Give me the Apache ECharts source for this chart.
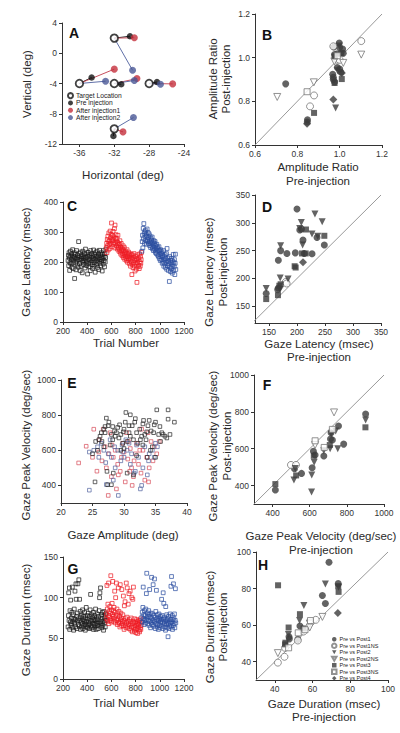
<!DOCTYPE html>
<html><head><meta charset="utf-8">
<script src="https://cdn.jsdelivr.net/npm/echarts@6/dist/echarts.min.js"></script>
<style>html,body{margin:0;padding:0;background:#fff}#c{width:400px;height:733px}</style>
</head><body><div id="c"></div>
<script>
// ---------- Panel A ----------
const tgtX=[-36,-32,-32,-28,-32], tgtY=[-4,2,-4,-4,-10];
const preX=[-34.6,-30.2,-31.2,-27.1,-32.1], preY=[-3.2,2.25,-4.1,-3.8,-10.95];
const inj1X=[-32,-29.7,-29.4,-25.3,-31], inj1Y=[-2.1,2.05,-3.35,-4.05,-10.4];
const inj2X=[-33,-29.9,-29.7,-26.7,-29.8], inj2Y=[-3.7,-2.25,-3.6,-4.1,-8.5];
const aXTicks=[-36,-32,-28,-24];

// ---------- Panels C & G (trial-by-trial) ----------
const blackTrials=[242,245,247,250,253,255,258,261,263,266,269,271,274,277,280,282,285,288,290,293,296,299,301,304,307,309,312,315,318,320,323,326,329,331,334,337,340,342,345,348,351,353,356,359,362,364,367,370,373,375,378,381,384,386,389,392,395,397,400,403,406,408,411,414,417,419,422,425,428,430,433,436,439,441,444,447,450,452,455,458,461,463,466,469,472,474,477,480,483,485,488,491,494,496,499,502,505,507,510,513,516,518,521,524,527,529,532,535,538,540,543,546,549,552,555];
const blackLat=[205,222,188,231,214,172,198,236,219,193,208,227,182,214,241,199,178,220,206,231,145,215,226,197,174,212,238,203,190,221,209,183,268,216,229,195,207,171,233,218,186,211,224,164,201,236,213,192,219,205,228,180,210,243,197,215,188,226,203,160,219,232,194,210,184,223,207,171,238,199,216,228,191,205,179,221,213,240,198,186,225,209,166,231,203,217,192,236,210,182,219,200,227,175,214,239,196,208,223,187,231,203,215,170,226,211,193,238,205,219,184,228,200,215,243];
const blackDur=[64,78,106,72,112,61,84,70,97,66,75,68,82,113,63,71,79,60,74,86,69,108,73,64,117,98,77,62,71,81,117,67,74,122,65,98,72,83,61,76,70,64,79,68,85,62,73,77,66,71,82,69,60,75,67,88,71,64,78,63,74,81,66,70,62,77,68,85,104,72,65,79,71,63,76,69,82,61,73,67,78,64,72,86,68,61,75,70,80,66,73,62,77,69,84,100,106,65,112,71,68,79,63,74,82,66,71,60,77,83,69,75,64,80,72];

const redTrials=[558,561,563,566,569,571,574,577,579,582,585,587,590,593,595,598,601,603,606,609,611,614,617,619,622,625,627,630,633,635,638,641,643,646,649,651,654,657,659,662,665,667,670,673,675,678,681,683,686,689,691,694,697,699,702,705,707,710,713,715,718,721,723,726,729,731,734,737,739,742,745,747,750,753,755,758,761,763,766,769,771,774,777,779,782,785,787,790,793,795,798,801,803,806,809,811,814,817,819,822,825,827,830,833,835,838,841,843,846,849];
const redLat=[248,262,231,275,254,286,240,268,297,259,272,245,303,281,262,292,330,270,251,288,276,302,259,284,265,311,247,323,280,262,291,270,254,278,243,266,289,249,261,236,258,242,271,233,250,226,262,238,247,221,243,229,254,215,238,224,248,209,232,219,236,212,228,204,241,218,199,226,210,233,206,221,194,228,212,186,217,201,225,158,209,192,223,181,214,198,228,187,205,170,219,193,208,176,211,132,198,224,184,207,190,214,178,227,201,186,219,196,208,232];
const redDur=[80,74,115,86,71,92,78,118,68,83,76,89,72,81,127,70,85,74,93,79,120,77,84,71,88,75,108,82,69,100,78,118,72,86,67,80,74,112,70,83,69,77,64,116,73,81,66,75,110,71,68,79,65,102,72,61,90,70,95,66,74,63,118,69,76,112,64,71,92,67,105,62,73,66,108,70,60,75,64,100,68,58,98,71,113,63,69,59,74,65,61,70,57,66,73,62,68,56,71,64,67,60,72,58,69,63,74,61,66,70];

const blueTrials=[852,855,857,860,863,865,868,871,873,876,879,881,884,887,889,892,895,897,900,903,905,908,911,913,916,919,921,924,927,929,932,935,937,940,943,945,948,951,953,956,959,961,964,967,969,972,975,977,980,983,985,988,991,993,996,999,1001,1004,1007,1009,1012,1015,1017,1020,1023,1025,1028,1031,1033,1036,1039,1041,1044,1047,1049,1052,1055,1057,1060,1063,1065,1068,1071,1073,1076,1079,1081,1084,1087,1089,1092,1095,1097,1100,1103,1105,1108,1111,1113,1116,1119,1121,1124,1127,1129,1132];
const blueLat=[236,268,289,247,312,278,328,295,262,301,284,306,271,293,259,287,310,276,268,298,281,262,294,271,255,287,266,248,279,261,273,252,283,244,266,257,238,271,249,262,241,268,232,254,246,228,259,237,250,223,244,219,236,251,212,238,226,205,241,218,229,208,234,196,222,215,200,238,186,219,207,193,224,182,211,199,228,176,245,204,188,213,172,201,194,135,218,183,206,168,197,178,212,186,163,204,190,225,171,199,184,208,158,196,226,175];
const blueDur=[76,82,70,88,113,74,79,67,84,72,78,69,86,73,105,130,75,81,68,77,72,84,66,79,110,71,76,63,81,69,125,74,67,80,72,116,65,78,71,123,70,76,62,83,68,109,73,64,79,67,75,61,72,80,66,74,63,77,69,71,73,98,65,78,70,62,106,74,93,68,76,64,71,60,89,73,67,79,63,70,74,52,68,77,62,71,65,80,69,73,114,64,126,70,78,61,73,66,117,75,68,80,63,72,111,69];

// ---------- Panel E (amplitude, peak velocity) ----------
const eBlack=[[26.5,650],[27,700],[26.8,720],[27.5,740],[28,690],[28.5,710],[26.2,680],[27.2,783],[29,730],[29.5,690],[30,720],[30.3,815],[30.8,700],[31,802],[31.3,740],[31.7,760],[32,700],[32.5,720],[33,750],[33.3,690],[33.8,740],[34,770],[34.3,710],[34.7,700],[35,760],[35.2,830],[35.5,690],[36,700],[36.5,680],[37,830],[37,777],[37.3,690],[38,760],[36.8,670],[35.8,650],[34.5,620],[33.5,660],[32.8,680],[31.5,660],[30.5,650],[29.8,640],[29.2,670],[28.2,660],[27.8,630],[26.8,620],[25.8,600],[25,580],[25.5,650],[26,660],[27.3,480],[25.4,420],[27.4,404],[28,404],[28.3,470],[30.5,470],[31.5,460],[33.7,560],[32,570],[35,560],[34.2,600],[33,630],[30,610],[29.5,600],[28.8,700],[31.8,780],[32.2,640],[31,680],[29.3,745],[28.2,735],[27.6,760],[30.2,760],[33.6,705],[34.8,745],[35.7,735],[36.2,690],[33.1,770],[32.6,660],[30.8,740],[29.9,705],[28.6,680],[26.4,700],[27,735]];
const eRed=[[22.8,528],[24,623],[25,560],[25.7,481],[26,590],[26.5,540],[27,620],[27.5,343],[27.2,500],[28,450],[28.3,560],[28.6,600],[29,520],[29.4,480],[29.8,640],[30,590],[30.2,420],[30.6,550],[31,610],[31.2,500],[31.5,450],[31.8,580],[32,640],[32.3,520],[32.7,470],[33,600],[33.3,430],[33.6,560],[34,500],[34.3,650],[34.8,620],[35.2,580],[26.7,720],[27.8,700],[30.7,650],[32.8,720],[33.8,700],[35.6,650],[28.8,380],[31.3,400],[33.9,420],[29.6,560],[30.9,480],[27.6,580],[26.1,660],[25.2,720],[28.1,630],[32.5,600],[31.6,540],[29.1,460],[34.6,540],[30.4,700]];
const eBlue=[[24.5,373],[24.5,590],[25.2,600],[26,560],[26.8,600],[27.5,580],[27.2,405],[28,560],[28.5,620],[29,600],[29.1,343],[29.5,540],[29.7,630],[30,560],[30.5,600],[31,520],[31.2,580],[31.6,470],[32,630],[32.3,560],[32.8,400],[33,500],[33.3,620],[33.7,460],[34,580],[34.5,600],[35,640],[35.3,620],[26.4,640],[27.8,660],[28.6,500],[30.8,640],[32.6,380],[31.8,480],[29.8,590],[28.3,430],[33.9,540],[30.3,660],[27.1,530],[25.8,620],[34.8,560]];

// ---------- Comparison panels B, D, F, H: [Post1, Post1NS, Post2, Post2NS, Post3, Post3NS, Post4] ----------
const bPost1=[[0.745,0.88],[0.848,0.716],[0.847,0.705],[0.967,0.924],[0.97,0.91],[0.97,0.9],[0.976,0.889],[0.989,0.955],[1.0,0.948],[1.006,0.933],[0.973,1.049],[0.998,1.067],[1.0,1.047],[1.014,1.04],[1.017,1.02],[0.989,1.018],[0.976,1.014]];
const bPost1NS=[[0.879,0.827],[0.86,0.777],[0.989,0.99],[1.0,0.99],[0.97,1.052],[1.102,1.076]];
const bPost2=[[0.981,0.77],[0.998,1.054],[0.99,0.94]];
const bPost2NS=[[0.705,0.82],[0.878,0.887],[1.017,0.976],[0.975,0.983],[1.102,1.014]];
const bPost3=[[0.879,0.747],[0.976,0.884],[1.01,0.902],[0.976,1.006],[1.008,1.02]];
const bPost3NS=[[0.846,0.844],[0.989,1.009]];
const bPost4=[[0.846,0.697],[0.97,0.808],[1.01,0.93]];

const dPost1=[[200,325],[235.7,273.7],[205,287],[208,289],[210.7,269],[248.8,260],[170.8,250],[182,245],[197,246],[213,245],[226.8,244.3],[166.7,232.9],[166.7,183],[165.5,180],[145,173]];
const dPost1NS=[[180,193.8],[181.5,191]];
const dPost2=[[232,316],[245,302],[207.7,300.7],[204.8,290],[226.8,280],[237,276],[210,260],[170.8,258.7],[170,201],[184,199],[145,182],[169.6,180]];
const dPost2NS=[];
const dPost3=[[216,288],[248.8,276.7],[209,245],[215.5,245],[195.8,222],[197.6,219.7],[170.8,189.6],[168.5,187],[145,163],[166,170]];
const dPost3NS=[];
const dPost4=[[210.7,229.3]];

const fPost1=[[901,788],[755,723],[715,687],[712,653],[722,647],[783,625],[676,560],[620,586],[629,566],[613,497],[556,466],[518,491],[415,376]];
const fPost1NS=[[499,512],[526,512]];
const fPost2=[[901,756],[740,696],[716,680],[710,600],[751,600],[676,589],[624,526],[611,457],[610,365],[522,493],[515,430]];
const fPost2NS=[[731,797],[629,620]];
const fPost3=[[900,716],[708,620],[622,562],[527,455],[415,408]];
const fPost3NS=[[722,705],[678,607],[629,643]];
const fPost4=[];

const hPost1=[[68.7,94.4],[73.6,82.7],[65.2,76.2],[66.8,71.8],[53.3,59.5],[47.5,53.6],[47.7,52.5],[52.2,52.2]];
const hPost1NS=[[61.7,62.9],[55.2,56.5],[52.2,51.6],[45.4,47.6],[45.1,42.7],[41.6,39.5]];
const hPost2=[[66.8,82.5],[73.8,80.7],[55.4,70.7],[53.1,62.5],[47.2,54.9]];
const hPost2NS=[[65.2,64.5],[58.5,60.9],[58.5,58.7],[41.6,44.7]];
const hPost3=[[41.7,81.8],[73.6,81.3],[73.8,78.2],[53.3,66],[55.2,58.2],[47.3,58.7],[45.6,50.4],[45.4,49.5]];
const hPost3NS=[[58.9,62.5],[52.4,55.8],[47.3,47.6],[56,57.5]];
const hPost4=[[73.4,66.7]];

const groupNames=['Pre vs Post1','Pre vs Post1NS','Pre vs Post2','Pre vs Post2NS','Pre vs Post3','Pre vs Post3NS','Pre vs Post4'];
const legendA=['Target Location','Pre injection','After injection1','After injection2'];

// ---------- build ----------
const FONT='"Liberation Sans", Arial, Helvetica, sans-serif';
const grids=[
 {left:62,top:23,width:122,height:121},
 {left:255,top:14,width:127,height:131},
 {left:63,top:202,width:121,height:120},
 {left:255,top:195,width:126,height:128},
 {left:61,top:380,width:126,height:123},
 {left:254,top:375,width:130,height:129},
 {left:63,top:557,width:121,height:122},
 {left:256,top:552,width:132,height:128}
];
function axis(gi,min,max,o){
  o=o||{};
  const a={type:'value',gridIndex:gi,min:min,max:max,
    axisLine:{show:true,onZero:false,lineStyle:{color:'#333',width:1}},
    axisTick:{show:true,length:3,lineStyle:{color:'#333'}},
    axisLabel:{fontSize:8.5,color:'#333',margin:4,fontFamily:FONT,fontWeight:'normal',formatter:o.fmt||(v=>String(v))},
    splitLine:{show:false}};
  if(o.interval!=null) a.interval=o.interval;
  if(o.ticks){a.axisLabel.customValues=o.ticks;a.axisTick.customValues=o.ticks;}
  return a;
}
const xAxis=[
  axis(0,-38,-24,{ticks:aXTicks}),
  axis(1,0.6,1.2,{interval:0.2,fmt:v=>v.toFixed(1)}),
  axis(2,200,1200,{interval:200}),
  axis(3,125,350,{ticks:[150,200,250,300,350]}),
  axis(4,20,40,{interval:5}),
  axis(5,300,1000,{ticks:[400,600,800,1000]}),
  axis(6,200,1200,{interval:200}),
  axis(7,30,100,{ticks:[40,60,80,100]})
];
const yAxis=[
  axis(0,-12,4,{interval:4}),
  axis(1,0.6,1.2,{interval:0.2,fmt:v=>v.toFixed(1)}),
  axis(2,0,400,{interval:100}),
  axis(3,120,350,{ticks:[150,200,250,300,350]}),
  axis(4,300,1000,{ticks:[400,600,800,1000]}),
  axis(5,300,1000,{ticks:[400,600,800,1000]}),
  axis(6,0,150,{interval:50}),
  axis(7,30,100,{ticks:[40,60,80,100]})
];
yAxis.forEach(a=>{a.axisLabel.margin=5;});

const series=[];
// Panel A lines
const segCols=['#222','#c8505e','#6070a8'];
[[preX,preY],[inj1X,inj1Y],[inj2X,inj2Y]].forEach((p,k)=>{
  for(let i=0;i<tgtX.length;i++){
    series.push({type:'line',xAxisIndex:0,yAxisIndex:0,data:[[tgtX[i],tgtY[i]],[p[0][i],p[1][i]]],
      symbol:'none',silent:true,lineStyle:{color:segCols[k],width:1},z:1});
  }
});
const zip=(xs,ys)=>xs.map((x,i)=>[x,ys[i]]);
series.push({type:'scatter',name:legendA[1],xAxisIndex:0,yAxisIndex:0,data:zip(preX,preY),symbolSize:6.5,itemStyle:{color:'#111'},z:3});
series.push({type:'scatter',name:legendA[2],xAxisIndex:0,yAxisIndex:0,data:zip(inj1X,inj1Y),symbolSize:7,itemStyle:{color:'#c4303c'},z:3});
series.push({type:'scatter',name:legendA[3],xAxisIndex:0,yAxisIndex:0,data:zip(inj2X,inj2Y),symbolSize:7,itemStyle:{color:'#4a5896'},z:3});
series.push({type:'scatter',name:legendA[0],xAxisIndex:0,yAxisIndex:0,data:zip(tgtX,tgtY),symbolSize:7.5,itemStyle:{color:'#fff',borderColor:'#111',borderWidth:1.8},z:4});

// Panels C & G
const tColors=['#1a1a1a','#ee1c24','#2b4ea0'];
const tSets=[[blackTrials,blackLat,blackDur],[redTrials,redLat,redDur],[blueTrials,blueLat,blueDur]];
tSets.forEach((s,k)=>{
  const n=Math.min(s[0].length,s[1].length,s[2].length);
  const lat=[],dur=[];
  for(let i=0;i<n;i++){lat.push([s[0][i],s[1][i]]);dur.push([s[0][i],s[2][i]]);}
  const st={color:'rgba(0,0,0,0)',borderColor:tColors[k],borderWidth:0.9};
  series.push({type:'scatter',xAxisIndex:2,yAxisIndex:2,data:lat,symbol:'rect',symbolSize:3.8,itemStyle:st,silent:true});
  series.push({type:'scatter',xAxisIndex:6,yAxisIndex:6,data:dur,symbol:'rect',symbolSize:3.8,itemStyle:st,silent:true});
});
// Panel E
[[eRed,'#d8505c'],[eBlue,'#5566a0'],[eBlack,'#2a2a2a']].forEach(p=>{
  series.push({type:'scatter',xAxisIndex:4,yAxisIndex:4,data:p[0],symbol:'rect',symbolSize:3.6,
    itemStyle:{color:'rgba(0,0,0,0)',borderColor:p[1],borderWidth:0.9},silent:true});
});

// Comparison panels
const TRI='path://M0,0L10,0L5,9Z';
const shapes=[['circle',false,7],['circle',true,7],[TRI,false,7],[TRI,true,7],['rect',false,6],['rect',true,6],['diamond',false,8]];
const comp=[
  [1,[bPost1,bPost1NS,bPost2,bPost2NS,bPost3,bPost3NS,bPost4],[0.6,1.2]],
  [3,[dPost1,dPost1NS,dPost2,dPost2NS,dPost3,dPost3NS,dPost4],[120,350]],
  [5,[fPost1,fPost1NS,fPost2,fPost2NS,fPost3,fPost3NS,fPost4],[300,1000]],
  [7,[hPost1,hPost1NS,hPost2,hPost2NS,hPost3,hPost3NS,hPost4],[30,100]]
];
comp.forEach(c=>{
  const gi=c[0];
  series.push({type:'line',xAxisIndex:gi,yAxisIndex:gi,data:[[c[2][0],c[2][0]],[c[2][1],c[2][1]]],symbol:'none',silent:true,
    lineStyle:{color:'#999',width:1},z:1,clip:true});
  c[1].forEach((d,k)=>{
    const sh=shapes[k];
    series.push({type:'scatter',name:groupNames[k],xAxisIndex:gi,yAxisIndex:gi,data:d,symbol:sh[0],symbolSize:sh[2],
      itemStyle:sh[1]?{color:'#fff',borderColor:'#777',borderWidth:1}:{color:'#3c3c3c'},z:3});
  });
});

// Text
function T(text,x,y,o){
  o=o||{};
  return {type:'text',x:x,y:y,rotation:o.rot?Math.PI/2:0,z:10,silent:true,
    style:{text:text,x:0,y:0,fill:o.fill||'#2a2a2a',stroke:'none',lineWidth:0,
      fontSize:o.size||11.5,fontFamily:FONT,fontWeight:o.bold?'bold':'normal',
      align:'center',verticalAlign:'middle',lineHeight:o.lh||13.5}};
}
const graphic=[
  T('A',74,33,{bold:true,size:14,fill:'#111'}),
  T('B',267,35,{bold:true,size:14,fill:'#111'}),
  T('C',72,206,{bold:true,size:14,fill:'#111'}),
  T('D',267,207,{bold:true,size:14,fill:'#111'}),
  T('E',72,383,{bold:true,size:14,fill:'#111'}),
  T('F',267,385,{bold:true,size:14,fill:'#111'}),
  T('G',73,569,{bold:true,size:14,fill:'#111'}),
  T('H',263,565,{bold:true,size:14,fill:'#111'}),
  T('Vertical (deg)',27,84,{rot:true}),
  T('Horizontal (deg)',123,175),
  T('Amplitude Ratio\nPost-injection',219.5,79,{rot:true}),
  T('Amplitude Ratio\nPre-injection',318,174),
  T('Gaze Latency (msec)',26,262,{rot:true}),
  T('Trial Number',126,343),
  T('Gaze Latency (msec)\nPost-injection',216,272,{rot:true}),
  T('Gaze Latency (msec)\nPre-injection',319,350.5),
  T('Gaze Peak Velocity (deg/sec)',26,445,{rot:true}),
  T('Gaze Amplitude (deg)',123,535),
  T('Gaze Peak Velocity (deg/sec)\nPost-injection',220,446,{rot:true}),
  T('Gaze Peak Velocity (deg/sec)\nPre-injection',321,543),
  T('Gaze Duration (msec)',26,620,{rot:true}),
  T('Trial Number',126,703),
  T('Gaze Duration (msec)\nPost-injection',216.5,627,{rot:true}),
  T('Gaze Duration (msec)\nPre-injection',324,710.5)
];

const option={
  animation:false,
  backgroundColor:'#fff',
  textStyle:{fontFamily:FONT,fontWeight:'normal'},
  grid:grids,
  xAxis:xAxis,
  yAxis:yAxis,
  legend:[
    {data:legendA,orient:'vertical',left:67,top:92,itemWidth:5,itemHeight:5,itemGap:0,padding:0,
      textStyle:{fontSize:6.7,lineHeight:7.3,color:'#222',fontFamily:FONT,fontWeight:'normal',padding:[0,0,0,-2]},selectedMode:false},
    {data:groupNames,orient:'vertical',left:331,top:636,itemWidth:4.5,itemHeight:4.5,itemGap:0,padding:0,
      textStyle:{fontSize:5.5,lineHeight:6.5,color:'#222',fontFamily:FONT,fontWeight:'normal',padding:[0,0,0,-2]},selectedMode:false}
  ],
  series:series,
  graphic:graphic
};
const chart=echarts.init(document.getElementById('c'),null,{renderer:'svg',width:400,height:733});
chart.setOption(option);
</script>
</body></html>
